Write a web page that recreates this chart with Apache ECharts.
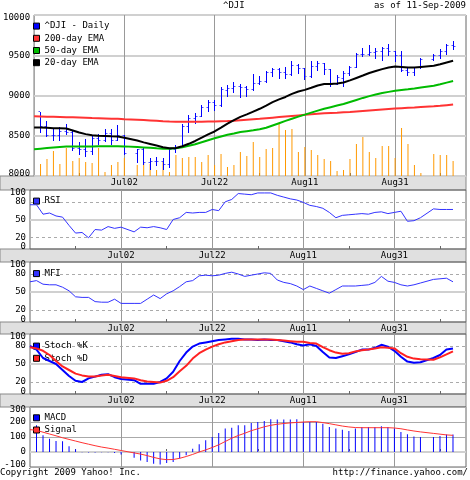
<!DOCTYPE html>
<html>
<head>
<meta charset="utf-8">
<script src="https://cdn.jsdelivr.net/npm/echarts@6/dist/echarts.min.js"></script>
<style>
html, body { margin: 0; padding: 0; background: #fff; }
#chart { width: 470px; height: 480px; }
</style>
</head>
<body>
<div id="chart"></div>
<script>
"use strict";

// trading days on the chart (Jun12 has indicator values only)
var days = ["Jun12", "Jun15", "Jun16", "Jun17", "Jun18", "Jun19", "Jun22", "Jun23", "Jun24", "Jun25", "Jun26", "Jun29", "Jun30",
    "Jul01", "Jul02", "Jul06", "Jul07", "Jul08", "Jul09", "Jul10", "Jul13", "Jul14", "Jul15", "Jul16", "Jul17", "Jul20", "Jul21",
    "Jul22", "Jul23", "Jul24", "Jul27", "Jul28", "Jul29", "Jul30", "Jul31", "Aug03", "Aug04", "Aug05", "Aug06", "Aug07", "Aug10",
    "Aug11", "Aug12", "Aug13", "Aug14", "Aug17", "Aug18", "Aug19", "Aug20", "Aug21", "Aug24", "Aug25", "Aug26", "Aug27", "Aug28",
    "Aug31", "Sep01", "Sep02", "Sep03", "Sep04", "Sep08", "Sep09", "Sep10", "Sep11"];

var open = [null, 8798, 8612, 8505, 8497, 8556, 8539, 8339, 8323, 8299, 8471, 8438, 8529, 8447, 8503, 8280, 8324, 8163, 8178, 8183,
    8146, 8331, 8360, 8616, 8711, 8743, 8848, 8915, 8881, 9068, 9093, 9108, 9096, 9072, 9154, 9172, 9286, 9320, 9280, 9257, 9370,
    9337, 9241, 9362, 9398, 9320, 9136, 9217, 9279, 9350, 9505, 9509, 9538, 9543, 9582, 9543, 9496, 9310, 9280, 9344, 9441, 9497,
    9547, 9627];
var high = [null, 8800, 8680, 8580, 8610, 8650, 8555, 8420, 8460, 8510, 8520, 8590, 8590, 8630, 8505, 8340, 8360, 8220, 8240, 8220,
    8350, 8390, 8640, 8760, 8780, 8880, 8940, 8940, 9100, 9130, 9170, 9140, 9120, 9270, 9240, 9310, 9340, 9340, 9350, 9430, 9390,
    9345, 9430, 9430, 9405, 9325, 9250, 9300, 9370, 9530, 9590, 9630, 9590, 9600, 9640, 9550, 9550, 9350, 9360, 9460, 9520, 9580,
    9640, 9680];
var low = [null, 8540, 8480, 8430, 8440, 8510, 8310, 8260, 8240, 8260, 8390, 8420, 8390, 8430, 8260, 8160, 8140, 8080, 8130, 8080,
    8100, 8280, 8350, 8540, 8640, 8730, 8790, 8810, 8860, 8980, 9030, 8970, 8980, 9060, 9130, 9160, 9230, 9210, 9200, 9246, 9270,
    9190, 9220, 9310, 9250, 9110, 9125, 9110, 9240, 9340, 9480, 9490, 9450, 9430, 9490, 9420, 9290, 9240, 9240, 9330, 9430, 9450,
    9500, 9560];
var close = [null, 8612, 8505, 8497, 8556, 8540, 8339, 8323, 8300, 8472, 8438, 8529, 8447, 8504, 8281, 8325, 8164, 8178, 8183, 8147,
    8332, 8359, 8616, 8712, 8744, 8848, 8916, 8881, 9069, 9093, 9109, 9097, 9071, 9154, 9172, 9287, 9320, 9281, 9256, 9370, 9338,
    9241, 9362, 9398, 9321, 9135, 9218, 9279, 9350, 9506, 9509, 9539, 9544, 9581, 9544, 9496, 9311, 9281, 9345, 9441, 9497, 9547,
    9627, 9605];
var volume = [null, 120, 170, 250, 120, 280, 150, 180, 140, 130, 280, 40, 110, 140, 180, 110, 140, 120, 60, 140, 40, 210, 180, 190,
    190, 140, 210, 110, 220, 90, 110, 240, 200, 340, 190, 270, 280, 540, 460, 470, 240, 290, 260, 210, 170, 150, 50, 60, 170, 320,
    390, 240, 180, 300, 300, 180, 480, 320, 110, 30, 220, 210, 210, 150];

var ema200 = [8741, 8739, 8737, 8735, 8733, 8731, 8729, 8726, 8723, 8720, 8718, 8715, 8712, 8710, 8706, 8700, 8695, 8690, 8685,
    8680, 8677, 8675, 8674, 8674, 8674, 8675, 8676, 8677, 8680, 8683, 8687, 8693, 8699, 8705, 8711, 8718, 8725, 8732, 8739, 8746,
    8753, 8760, 8766, 8772, 8778, 8782, 8786, 8791, 8796, 8802, 8808, 8814, 8820, 8826, 8832, 8837, 8842, 8847, 8852, 8858, 8865,
    8872, 8880, 8887];
var ema50 = [8333, 8340, 8347, 8354, 8360, 8365, 8367, 8368, 8368, 8368, 8369, 8369, 8370, 8370, 8368, 8360, 8355, 8350, 8344,
    8339, 8340, 8346, 8358, 8375, 8395, 8420, 8445, 8468, 8490, 8512, 8528, 8546, 8557, 8568, 8580, 8600, 8628, 8655, 8685, 8712,
    8738, 8762, 8787, 8812, 8835, 8855, 8875, 8895, 8920, 8945, 8970, 8992, 9012, 9030, 9045, 9058, 9068, 9077, 9088, 9100, 9122,
    9140, 9160, 9179];
var ema20 = [8604, 8602, 8598, 8594, 8592, 8590, 8565, 8540, 8520, 8505, 8500, 8497, 8493, 8490, 8475, 8440, 8418, 8398, 8378,
    8358, 8346, 8348, 8370, 8400, 8435, 8476, 8518, 8553, 8600, 8650, 8695, 8735, 8765, 8800, 8835, 8875, 8918, 8952, 8982, 9020,
    9050, 9070, 9096, 9124, 9142, 9143, 9150, 9162, 9188, 9218, 9248, 9280, 9305, 9328, 9348, 9360, 9355, 9348, 9347, 9355, 9370,
    9388, 9410, 9432];

var rsi = [75, 75, 59, 61, 56, 54, 40, 27, 28, 19, 33, 32, 38, 35, 37, 29, 37, 36, 38, 36, 33, 50, 53, 62, 61, 62, 62, 67, 65, 80,
    84, 94, 93, 92, 95, 95, 95, 91, 88, 85, 83, 79, 74, 72, 69, 62, 53, 57, 58, 59, 60, 59, 62, 63, 60, 62, 64, 47, 48, 53, 68, 67,
    67, 67];
var mfi = [67, 69, 63, 62, 62, 58, 52, 42, 41, 41, 34, 33, 33, 38, 31, 31, 31, 38, 45, 39, 47, 52, 59, 67, 69, 77, 78, 77, 78, 81,
    83, 80, 76, 78, 80, 82, 81, 70, 66, 64, 60, 54, 60, 56, 52, 48, 54, 60, 60, 60, 61, 62, 66, 76, 68, 66, 62, 60, 62, 65, 71, 72,
    73, 67];
var stochK = [80, 74, 60, 55, 50, 40, 30, 22, 20, 26, 29, 32, 33, 28, 25, 23, 17, 17, 17, 20, 26, 37, 55, 69, 79, 84, 86, 88, 90,
    91, 92, 92, 91, 91, 90, 91, 90, 90, 88, 86, 83, 81, 83, 80, 70, 61, 60, 63, 66, 70, 74, 74, 77, 82, 79, 72, 62, 54, 52, 53, 60,
    65, 74, 76];
var stochD = [78, 76, 72, 65, 55, 46, 40, 34, 31, 29, 29, 31, 32, 30, 28, 26, 23, 21, 20, 19, 22, 28, 38, 47, 59, 68, 74, 79, 83,
    86, 88, 90, 91, 91, 91, 91, 91, 90, 89, 88, 87, 87, 85, 84, 78, 73, 69, 67, 68, 71, 73, 74, 76, 78, 77, 76, 68, 62, 59, 58, 57,
    61, 66, 71];
var macd = [null, 178, 111, 89, 73, 71, 38, 18, -2, -4, -4, -2, -2, -7, -16, -38, -56, -67, -78, -84, -73, -67, -44, -22, 22, 51,
    78, 100, 127, 156, 162, 178, 178, 193, 200, 207, 218, 216, 216, 216, 218, 200, 200, 200, 189, 167, 156, 149, 140, 156, 167, 167,
    167, 171, 167, 156, 133, 118, 104, 100, 100, 107, 116, 116];
var signal = [149, 145, 132, 120, 108, 95, 84, 73, 62, 52, 42, 33, 26, 18, 10, -6, -14, -24, -36, -46, -51, -50, -42, -30, -16, 0,
    14, 30, 48, 70, 92, 110, 125, 142, 155, 168, 178, 185, 190, 194, 197, 200, 202, 202, 196, 189, 181, 173, 167, 163, 162, 162, 162,
    162, 162, 160, 155, 147, 140, 134, 124, 119, 114, 111];

var FONT = '"DejaVu Sans Mono", monospace';
var TXT = {fontFamily: FONT, fontSize: 9, color: "#000", fontWeight: "normal"};

// weekday axis, holidays stay as gaps
var MON = ["Jan", "Feb", "Mar", "Apr", "May", "Jun", "Jul", "Aug", "Sep", "Oct", "Nov", "Dec"];
var cats = [];
for (var d = new Date(2009, 5, 12); d <= new Date(2009, 8, 15); d.setDate(d.getDate() + 1)) {
    if (d.getDay() === 0 || d.getDay() === 6) continue;
    cats.push(MON[d.getMonth()] + ("0" + d.getDate()).slice(-2));
}
var slot = days.map(function (s) { return cats.indexOf(s); });

function onAxis(arr) {
    return cats.map(function (c) {
        var k = days.indexOf(c);
        return k < 0 ? null : arr[k];
    });
}

var ohlc = [];
days.forEach(function (s, k) {
    if (open[k] !== null) ohlc.push([slot[k], open[k], high[k], low[k], close[k]]);
});

// snap to the pixel grid so 1px strokes stay crisp
function px(v) { return Math.round(v - 0.5) + 0.5; }

function renderOhlc(params, api) {
    var x = api.value(0);
    var h = api.coord([x, api.value(2)]);
    var l = api.coord([x, api.value(3)]);
    var xo = px(h[0]);
    var yo = px(api.coord([x, api.value(1)])[1]);
    var yc = px(api.coord([x, api.value(4)])[1]);
    var st = {stroke: "#0000ff", lineWidth: 1};
    var tick = {stroke: "#5555ff", lineWidth: 1};
    return {
        type: "group",
        children: [
            {type: "line", shape: {x1: xo, y1: Math.round(h[1]), x2: xo, y2: Math.round(l[1])}, style: st},
            {type: "line", shape: {x1: xo - 2, y1: yo, x2: xo - 0.5, y2: yo}, style: tick},
            {type: "line", shape: {x1: xo + 0.5, y1: yc, x2: xo + 2, y2: yc}, style: tick}
        ]
    };
}

var major = function (i) { return i > 0 && i % 14 === 0; };
var minor = function (i) { return i % 14 === 7; };

function xAxisFor(gi, labels) {
    return {
        type: "category", gridIndex: gi, data: cats, boundaryGap: false,
        axisLine: {show: false},
        axisTick: {show: true, inside: true, length: 3, interval: minor, lineStyle: {color: "#666"}},
        axisLabel: Object.assign({show: labels, interval: major, margin: 2, lineHeight: 10}, TXT),
        splitLine: {show: true, interval: major, lineStyle: {color: "#999", width: 1}}
    };
}

function yAxisFor(gi, lo, hi, step, shown, split) {
    return {
        type: "value", gridIndex: gi, min: lo, max: hi, interval: step,
        axisLine: {show: false}, axisTick: {show: false},
        splitLine: split || {show: false},
        axisLabel: Object.assign({
            margin: 4,
            formatter: function (v) {
                if (shown && shown.indexOf(v) < 0) return "";
                if (v === hi) return "{t|" + v + "}";
                if (v === lo) return "{b|" + v + "}";
                return String(v);
            },
            rich: {
                t: Object.assign({padding: [5, 0, 0, 0]}, TXT),
                b: Object.assign({padding: [0, 0, 5, 0]}, TXT)
            }
        }, TXT)
    };
}

function guides(lines) {
    return {
        silent: true, symbol: "none", z: 1, label: {show: false}, animation: false,
        data: lines.map(function (g) {
            return {yAxis: g[0], lineStyle: {color: g[1], width: g[2], type: g[3]}};
        })
    };
}
var bandLines = [[80, "#aaa", 1, [3, 3]], [50, "#d0d0d0", 2, "solid"], [20, "#aaa", 1, [3, 3]]];

function legendAt(top, names) {
    return {
        data: names, top: top, left: 33, orient: "vertical", padding: 0, itemGap: 0,
        itemWidth: 6, itemHeight: 6, icon: "rect", selectedMode: false,
        itemStyle: {borderColor: "#000", borderWidth: 1},
        textStyle: Object.assign({lineHeight: 12.2}, TXT)
    };
}

function line(name, xi, yi, data, color, width, extra) {
    return Object.assign({
        name: name, type: "line", xAxisIndex: xi, yAxisIndex: yi, data: onAxis(data),
        color: color, lineStyle: {color: color, width: width}, symbol: "none", showSymbol: false,
        connectNulls: true, z: 4
    }, extra || {});
}

var strips = [[176, 14], [249, 13], [322, 12], [394, 13]].map(function (s) {
    return {
        type: "rect", z: -10, shape: {x: 0, y: s[0], width: 466, height: s[1]},
        style: {fill: "#e0e0e0", stroke: "#888", lineWidth: 1}
    };
});

var gridBase = {left: 30, width: 436, show: true, borderColor: "#666", borderWidth: 1};

var chart = echarts.init(document.getElementById("chart"));
chart.setOption({
    animation: false,
    backgroundColor: "#fff",
    textStyle: {fontFamily: FONT},
    title: [
        {text: "^DJI", left: 223, top: 1, padding: 0, textStyle: TXT},
        {text: "as of 11-Sep-2009", right: 4, top: 1, padding: 0, textStyle: TXT},
        {text: "Copyright 2009 Yahoo! Inc.", left: 0, top: 468, padding: 0, textStyle: TXT},
        {text: "http://finance.yahoo.com/", right: 2, top: 468, padding: 0, textStyle: TXT}
    ],
    graphic: strips,
    legend: [
        legendAt(20, ["^DJI - Daily", "200-day EMA", "50-day EMA", "20-day EMA"]),
        legendAt(195, ["RSI"]),
        legendAt(267.5, ["MFI"]),
        legendAt(340, ["Stoch %K", "Stoch %D"]),
        legendAt(411.7, ["MACD", "Signal"])
    ],
    grid: [
        Object.assign({top: 15, height: 161}, gridBase),
        Object.assign({top: 190, height: 59}, gridBase),
        Object.assign({top: 262, height: 60}, gridBase),
        Object.assign({top: 334, height: 60}, gridBase),
        Object.assign({top: 407, height: 60}, gridBase)
    ],
    xAxis: [xAxisFor(0, true), xAxisFor(1, true), xAxisFor(2, true), xAxisFor(3, true), xAxisFor(4, false)],
    yAxis: [
        yAxisFor(0, 8000, 10000, 500, null, {show: true, lineStyle: {color: "#d0d0d0", width: 2}}),
        {type: "value", gridIndex: 0, min: 0, max: 1610, show: false, splitLine: {show: false}},
        yAxisFor(1, 0, 100, 10, [0, 20, 50, 80, 100]),
        yAxisFor(2, 0, 100, 10, [0, 20, 50, 80, 100]),
        yAxisFor(3, 0, 100, 10, [0, 20, 50, 80, 100]),
        yAxisFor(4, -100, 300, 100, null, {show: true, lineStyle: {color: "#aaa", width: 1}})
    ],
    series: [
        {
            name: "Volume", type: "bar", xAxisIndex: 0, yAxisIndex: 1, data: onAxis(volume),
            barWidth: 1, itemStyle: {color: "#ff9900"}, z: 1
        },
        {
            name: "^DJI - Daily", type: "custom", xAxisIndex: 0, yAxisIndex: 0, data: ohlc,
            renderItem: renderOhlc, encode: {x: 0, y: [1, 2, 3, 4]}, itemStyle: {color: "#0000ff"}, z: 3
        },
        line("200-day EMA", 0, 0, ema200, "#ff3333", 2),
        line("50-day EMA", 0, 0, ema50, "#00bb00", 2),
        line("20-day EMA", 0, 0, ema20, "#000000", 2),
        line("RSI", 1, 2, rsi, "#3333ff", 1, {markLine: guides(bandLines)}),
        line("MFI", 2, 3, mfi, "#3333ff", 1, {markLine: guides(bandLines)}),
        line("Stoch %K", 3, 4, stochK, "#0000ff", 2, {markLine: guides(bandLines)}),
        line("Stoch %D", 3, 4, stochD, "#ff2222", 2),
        {
            name: "MACD", type: "bar", xAxisIndex: 4, yAxisIndex: 5, data: onAxis(macd),
            barWidth: 1, itemStyle: {color: "#0000ff"}, z: 2
        },
        line("Signal", 4, 5, signal, "#ff3333", 1, {markLine: guides([[0, "#d0d0d0", 2, "solid"]])})
    ]
});
</script>
</body>
</html>
